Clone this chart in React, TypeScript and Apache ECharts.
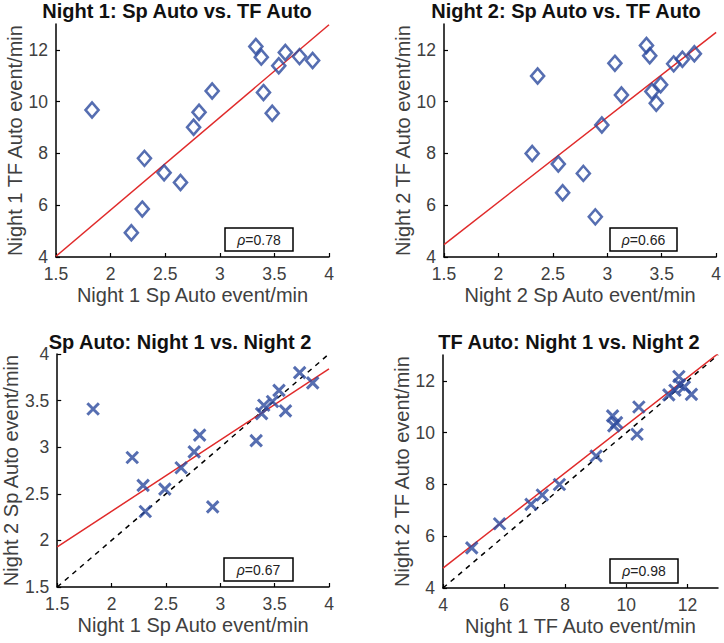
import React, { useEffect, useRef } from "react";
import * as echarts from "echarts";

// Per-subject values (17 subjects)
const sp1 = [1.83, 2.19, 2.29, 2.31, 2.49, 2.64, 2.76, 2.81, 2.93, 3.33, 3.38, 3.40, 3.48, 3.54, 3.60, 3.73, 3.85];
const tf1 = [9.68, 4.94, 5.85, 7.81, 7.25, 6.88, 9.01, 9.59, 10.41, 12.13, 11.72, 10.35, 9.55, 11.39, 11.90, 11.74, 11.59];
const sp2 = [3.41, 2.89, 2.59, 2.31, 2.55, 2.78, 2.95, 3.13, 2.36, 3.07, 3.36, 3.45, 3.49, 3.61, 3.39, 3.80, 3.69];
const tf2 = [10.39, 5.55, 6.48, 8.0, 7.59, 7.23, 9.10, 10.26, 10.99, 11.48, 12.17, 9.94, 10.65, 11.46, 11.77, 11.85, 11.64];

// Fitted regression lines (end points)
const fit1 = [[1.5, 4.03], [4, 12.97]];
const fit2 = [[1.5, 4.48], [4, 12.68]];
const fit3 = [[1.5, 1.93], [4, 3.84]];
const fit4 = [[4, 4.77], [13, 13.05]];
// identity lines
const ident3 = [[1.5, 1.5], [4, 4]];
const ident4 = [[4, 4], [13, 13]];

const rhoValues = ["0.78", "0.66", "0.67", "0.98"];
const titles = [
  "Night 1: Sp Auto vs. TF Auto",
  "Night 2: Sp Auto vs. TF Auto",
  "Sp Auto: Night 1 vs. Night 2",
  "TF Auto: Night 1 vs. Night 2",
];
const xNames = [
  "Night 1 Sp Auto event/min",
  "Night 2 Sp Auto event/min",
  "Night 1 Sp Auto event/min",
  "Night 1 TF Auto event/min",
];
const yNames = [
  "Night 1 TF Auto event/min",
  "Night 2 TF Auto event/min",
  "Night 2 Sp Auto event/min",
  "Night 2 TF Auto event/min",
];
const spTicks = [1.5, 2, 2.5, 3, 3.5, 4];
const tfTicks = [4, 6, 8, 10, 12];

const FONT = "Liberation Sans";
const TXT = "#404040";
const BLUE = "#2c4a9e";
const RED = "#e02a2a";

function zip(a: number[], b: number[]) {
  return a.map((v, i) => [v, b[i]]);
}

export default function App() {
  const ref = useRef<HTMLDivElement>(null);
  useEffect(() => {
    document.body.style.margin = "0";
    const chart = echarts.init(ref.current!, null, { renderer: "svg" });

    const grids = [
      { left: 56, top: 24, width: 273, height: 233 },
      { left: 444, top: 24, width: 274, height: 233 },
      { left: 56, top: 354, width: 273, height: 233 },
      { left: 443, top: 355, width: 275, height: 233 },
    ];
    const xr = [
      { min: 1.5, max: 4, interval: 0.5, ticks: spTicks },
      { min: 1.5, max: 4, interval: 0.5, ticks: spTicks },
      { min: 1.5, max: 4, interval: 0.5, ticks: spTicks },
      { min: 4, max: 13, interval: 2, ticks: tfTicks },
    ];
    const yr = [
      { min: 4, max: 13, interval: 2, ticks: tfTicks },
      { min: 4, max: 13, interval: 2, ticks: tfTicks },
      { min: 1.5, max: 4, interval: 0.5, ticks: spTicks },
      { min: 4, max: 13, interval: 2, ticks: tfTicks },
    ];

    const axisCommon = (r: any, name: string, i: number, isY: boolean) => ({
      type: "value",
      gridIndex: i,
      min: r.min,
      max: r.max,
      interval: r.interval,
      name,
      nameLocation: "middle",
      nameGap: isY ? 31 : 28,
      nameTextStyle: { fontSize: 20, color: TXT, fontFamily: FONT },
      axisLine: { show: true, onZero: false, lineStyle: { color: "#000", width: 1.5 } },
      axisTick: { show: true, inside: true, length: 4, customValues: r.ticks, lineStyle: { color: "#000", width: 1.2 } },
      axisLabel: { show: true, customValues: r.ticks, fontSize: 17.5, color: TXT, fontFamily: FONT, margin: 8 },
      splitLine: { show: false },
    });

    const crossSymbol = "path://M0 0 L10 10 M10 0 L0 10";

    const series: any[] = [];
    const scatterData = [zip(sp1, tf1), zip(sp2, tf2), zip(sp1, sp2), zip(tf1, tf2)];
    const fits = [fit1, fit2, fit3, fit4];
    for (let i = 0; i < 4; i++) {
      if (i === 2 || i === 3) {
        series.push({
          type: "line",
          xAxisIndex: i,
          yAxisIndex: i,
          data: i === 2 ? ident3 : ident4,
          showSymbol: false,
          symbol: "none",
          lineStyle: { color: "#000", width: 1.5, type: [5, 5] },
          z: 2,
        });
      }
      series.push({
        type: "line",
        xAxisIndex: i,
        yAxisIndex: i,
        data: fits[i],
        showSymbol: false,
        symbol: "none",
        lineStyle: { color: RED, width: 1.5 },
        z: 3,
      });
      if (i < 2) {
        series.push({
          type: "scatter",
          xAxisIndex: i,
          yAxisIndex: i,
          data: scatterData[i],
          symbol: "diamond",
          symbolSize: [13, 15],
          itemStyle: { color: "transparent", borderColor: BLUE, borderWidth: 2.6 },
          z: 4,
        });
      } else {
        series.push({
          type: "scatter",
          xAxisIndex: i,
          yAxisIndex: i,
          data: scatterData[i],
          symbol: crossSymbol,
          symbolSize: 11.5,
          itemStyle: { color: "transparent", borderColor: BLUE, borderWidth: 3 },
          z: 4,
        });
      }
    }

    const titlePos = [
      [177, 11],
      [566, 11],
      [180, 342],
      [569, 342],
    ];
    const boxes = [
      [225, 228, 68, 23],
      [610, 228, 67, 23],
      [224, 558, 69, 23],
      [610, 559, 68, 24],
    ];
    const graphic: any[] = [];
    for (let i = 0; i < 4; i++) {
      graphic.push({
        type: "text",
        x: titlePos[i][0],
        y: titlePos[i][1],
        style: {
          text: titles[i],
          font: `bold 20px "${FONT}"`,
          fill: "#111",
          textAlign: "center",
          textVerticalAlign: "middle",
          align: "center",
          verticalAlign: "middle",
        },
        z: 10,
      });
      const [bx, by, bw, bh] = boxes[i];
      graphic.push({
        type: "rect",
        shape: { x: bx, y: by, width: bw, height: bh },
        style: { fill: "#fff", stroke: "#000", lineWidth: 1.5 },
        z: 10,
      });
      graphic.push({
        type: "text",
        x: bx + bw / 2,
        y: by + bh / 2,
        style: {
          text: `{i|ρ}=${rhoValues[i]}`,
          rich: { i: { fontStyle: "italic", fontSize: 14, fontFamily: FONT, fill: "#222" } },
          font: `14px "${FONT}"`,
          fill: "#222",
          textAlign: "center",
          textVerticalAlign: "middle",
          align: "center",
          verticalAlign: "middle",
        },
        z: 11,
      });
    }

    chart.setOption({
      animation: false,
      backgroundColor: "#fff",
      grid: grids,
      xAxis: xr.map((r, i) => axisCommon(r, xNames[i], i, false)),
      yAxis: yr.map((r, i) => axisCommon(r, yNames[i], i, true)),
      series,
      graphic,
    });
    return () => chart.dispose();
  }, []);
  return <div ref={ref} style={{ width: 724, height: 643 }} />;
}
